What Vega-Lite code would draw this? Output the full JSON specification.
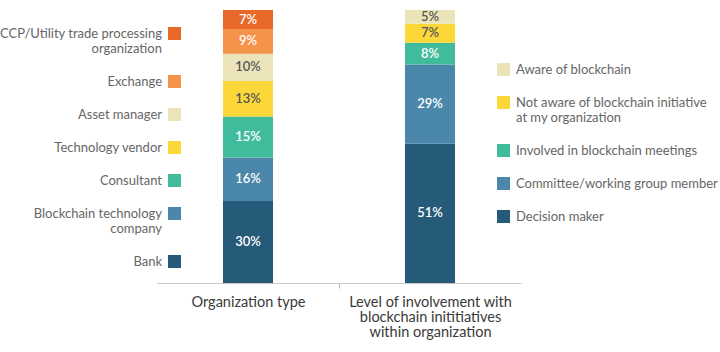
{
  "$schema": "https://vega.github.io/schema/vega-lite/v6.json",
  "width": 364,
  "height": 273,
  "autosize": {"type": "none"},
  "padding": {"left": 157, "top": 10, "right": 199, "bottom": 69},
  "background": "white",
  "config": {"view": {"stroke": null}, "font": "Lato"},
  "data": {
    "values": [
      {"g": "Organization type", "s": "Bank", "v": 0.30, "k": 1},
      {"g": "Organization type", "s": "Blockchain technology company", "v": 0.16, "k": 2},
      {"g": "Organization type", "s": "Consultant", "v": 0.15, "k": 3},
      {"g": "Organization type", "s": "Technology vendor", "v": 0.13, "k": 4},
      {"g": "Organization type", "s": "Asset manager", "v": 0.10, "k": 5},
      {"g": "Organization type", "s": "Exchange", "v": 0.09, "k": 6},
      {"g": "Organization type", "s": "CCP/Utility trade processing organization", "v": 0.07, "k": 7},
      {"g": "Level of involvement", "s": "Decision maker", "v": 0.51, "k": 1},
      {"g": "Level of involvement", "s": "Committee/working group member", "v": 0.29, "k": 2},
      {"g": "Level of involvement", "s": "Involved in blockchain meetings", "v": 0.08, "k": 3},
      {"g": "Level of involvement", "s": "Not aware of blockchain initiative at my organization", "v": 0.07, "k": 4},
      {"g": "Level of involvement", "s": "Aware of blockchain", "v": 0.05, "k": 5}
    ]
  },
  "encoding": {
    "x": {
      "field": "g",
      "type": "nominal",
      "sort": ["Organization type", "Level of involvement"],
      "scale": {"paddingInner": 0.725, "paddingOuter": 0.3625},
      "axis": {
        "title": null,
        "labelAngle": 0,
        "labelFontSize": 14.5,
        "labelColor": "#3a3a3a",
        "labelPadding": 7,
        "labelLineHeight": 15,
        "domainColor": "#c8c8c8",
        "tickColor": "#b8b8b8",
        "tickSize": 5,
        "tickOffset": 91,
        "labelOffset": -91,
        "tickOpacity": {"condition": {"test": "datum.value === 'Level of involvement'", "value": 0}, "value": 1},
        "labelExpr": "datum.value === 'Organization type' ? datum.value : ['Level of involvement with', 'blockchain inititiatives', 'within organization']"
      }
    },
    "y": {
      "field": "v",
      "type": "quantitative",
      "stack": "zero",
      "scale": {"domain": [0, 1]},
      "axis": null
    }
  },
  "layer": [
    {
      "transform": [{"filter": "datum.g === 'Organization type'"}],
      "mark": {"type": "bar"},
      "encoding": {
        "color": {
          "field": "s",
          "type": "nominal",
          "scale": {
            "domain": ["CCP/Utility trade processing organization", "Exchange", "Asset manager", "Technology vendor", "Consultant", "Blockchain technology company", "Bank"],
            "range": ["#e8682a", "#f5934b", "#ece4b9", "#fcd73a", "#40bc9c", "#4a87aa", "#255a78"]
          },
          "legend": {
            "orient": "none",
            "legendX": 11,
            "legendY": 17,
            "title": null,
            "symbolType": "square",
            "symbolSize": 169,
            "symbolStrokeWidth": 0,
            "labelAlign": "right",
            "labelOffset": -19,
            "labelFontSize": 13,
            "labelColor": "#666666",
            "labelLimit": 400,
            "rowPadding": 19,
            "labelExpr": "datum.value === 'CCP/Utility trade processing organization' ? ['CCP/Utility trade processing', 'organization'] : datum.value === 'Blockchain technology company' ? ['Blockchain technology', 'company'] : datum.value"
          }
        },
        "order": {"field": "k", "type": "quantitative"}
      }
    },
    {
      "transform": [{"filter": "datum.g === 'Level of involvement'"}],
      "mark": {"type": "bar"},
      "encoding": {
        "color": {
          "field": "s",
          "type": "nominal",
          "scale": {
            "domain": ["Aware of blockchain", "Not aware of blockchain initiative at my organization", "Involved in blockchain meetings", "Committee/working group member", "Decision maker"],
            "range": ["#ece4b9", "#fcd73a", "#40bc9c", "#4a87aa", "#255a78"]
          },
          "legend": {
            "orient": "none",
            "legendX": 340,
            "legendY": 53,
            "title": null,
            "symbolType": "square",
            "symbolSize": 169,
            "symbolStrokeWidth": 0,
            "labelAlign": "left",
            "labelOffset": 6,
            "labelFontSize": 13,
            "labelColor": "#666666",
            "labelLimit": 400,
            "rowPadding": 19,
            "labelExpr": "datum.value === 'Not aware of blockchain initiative at my organization' ? ['Not aware of blockchain initiative', 'at my organization'] : datum.value",
            "encode": {
              "symbols": {
                "update": {
                  "fill": {"signal": "datum.value === 'Aware of blockchain' ? '#4a87aa' : datum.value === 'Not aware of blockchain initiative at my organization' ? '#fcd73a' : datum.value === 'Involved in blockchain meetings' ? '#40bc9c' : datum.value === 'Committee/working group member' ? '#4a87aa' : '#255a78'"}
                }
              }
            }
          }
        },
        "order": {"field": "k", "type": "quantitative"}
      }
    },
    {
      "mark": {"type": "text", "fontSize": 13, "fontWeight": 600, "baseline": "middle"},
      "encoding": {
        "y": {"field": "v", "type": "quantitative", "stack": "zero", "bandPosition": 0.5},
        "detail": {"field": "s"},
        "order": {"field": "k", "type": "quantitative"},
        "text": {"field": "v", "type": "quantitative", "format": ".0%"},
        "color": {
          "condition": {"test": "datum.s === 'Asset manager' || datum.s === 'Technology vendor' || datum.s === 'Aware of blockchain' || datum.s === 'Not aware of blockchain initiative at my organization'", "value": "#555555"},
          "value": "#ffffff"
        }
      }
    }
  ],
  "resolve": {"scale": {"color": "independent"}}
}
